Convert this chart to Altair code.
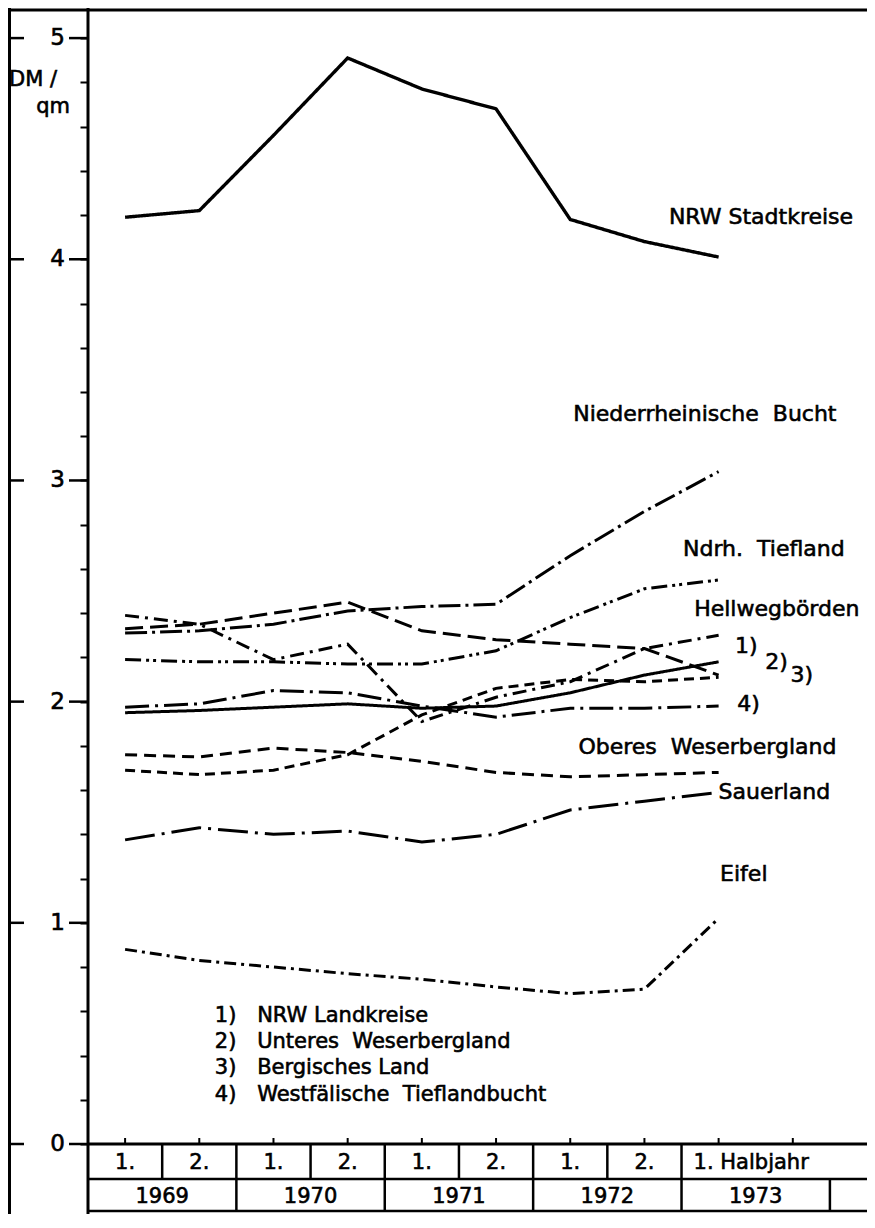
import altair as alt
import pandas as pd

FONT = "DejaVu Sans"
SP = "\u00a0"
TXT = dict(font=FONT, color="black", stroke="black", strokeWidth=0.6, baseline="middle")

# half-year positions (0 = 1969 1st half ... 8 = 1973 1st half)
halfyear_index = [0, 1, 2, 3, 4, 5, 6, 7, 8]
halfyear_labels = ["1.", "2.", "1.", "2.", "1.", "2.", "1.", "2.", "1. Halbjahr"]
years = ["1969", "1970", "1971", "1972", "1973"]
year_centers = [0.5, 2.5, 4.5, 6.5, 8.5]

# DM/qm values
nrw_stadtkreise = [4.19, 4.22, 4.56, 4.91, 4.77, 4.68, 4.18, 4.08, 4.01]
niederrheinische_bucht = [2.31, 2.32, 2.35, 2.41, 2.43, 2.44, 2.66, 2.86, 3.04]
ndrh_tiefland = [2.19, 2.18, 2.18, 2.17, 2.17, 2.23, 2.38, 2.51, 2.55]
hellwegboerden = [2.39, 2.35, 2.19, 2.26, 1.91, 2.02, 2.09, 2.24, 2.30]
nrw_landkreise = [1.95, 1.96, 1.975, 1.99, 1.97, 1.98, 2.04, 2.12, 2.18]
unteres_weserbergland = [2.33, 2.35, 2.40, 2.45, 2.32, 2.28, 2.26, 2.24, 2.12]
bergisches_land = [1.69, 1.67, 1.69, 1.76, 1.94, 2.06, 2.10, 2.09, 2.11]
westf_tieflandbucht = [1.975, 1.99, 2.05, 2.04, 1.98, 1.93, 1.97, 1.97, 1.98]
oberes_weserbergland = [1.76, 1.75, 1.79, 1.77, 1.73, 1.68, 1.66, 1.67, 1.68]
sauerland = [1.375, 1.43, 1.40, 1.415, 1.365, 1.40, 1.51, 1.55, 1.59]
eifel = [0.88, 0.83, 0.80, 0.77, 0.745, 0.71, 0.68, 0.70, 1.02]

series_names = ["NRW Stadtkreise", "Niederrheinische Bucht", "Ndrh. Tiefland", "Hellwegbörden",
                "NRW Landkreise", "Unteres Weserbergland", "Bergisches Land",
                "Westfälische Tieflandbucht", "Oberes Weserbergland", "Sauerland", "Eifel"]
series_values = [nrw_stadtkreise, niederrheinische_bucht, ndrh_tiefland, hellwegboerden,
                 nrw_landkreise, unteres_weserbergland, bergisches_land,
                 westf_tieflandbucht, oberes_weserbergland, sauerland, eifel]
series_dashes = [[1, 0], [22, 5, 3, 5], [16, 5, 3, 4, 3, 5], [14, 6, 3, 6],
                 [1, 0], [18, 7], [10, 6],
                 [24, 6, 3, 6], [12, 7], [30, 7, 3, 7], [12, 5, 3, 5]]

# labels on the right of the lines
label_texts = ["NRW Stadtkreise", "Niederrheinische" + SP + SP + "Bucht", "Ndrh." + SP + SP + "Tiefland",
               "Hellwegbörden", "1)", "2)", "3)", "4)", "Oberes" + SP + SP + "Weserbergland",
               "Sauerland", "Eifel"]
label_x = [7.33, 6.04, 7.52, 7.67, 8.22, 8.63, 8.97, 8.25, 6.11, 8.00, 8.02]
label_y = [4.19, 3.30, 2.69, 2.42, 2.25, 2.18, 2.12, 1.99, 1.795, 1.59, 1.22]

# footnotes
note_numbers = ["1)", "2)", "3)", "4)"]
note_texts = ["NRW Landkreise", "Unteres" + SP + SP + "Weserbergland", "Bergisches" + SP + "Land",
              "Westfälische" + SP + SP + "Tieflandbucht"]
note_y = [0.58, 0.46, 0.345, 0.22]

major_ticks = [0, 1, 2, 3, 4, 5]
major_labels = ["0", "1", "2", "3", "4", "5"]
minor_ticks = [round(k * 0.1, 1) for k in range(0, 52)]
x_ticks = [0, 1, 2, 3, 4, 5, 6, 7, 8, 9]
half_bounds = [0.5, 2.5, 4.5, 6.5]
year_bounds = [1.5, 3.5, 5.5, 7.5]
last_bound = [9.5]

W, H = 779, 1134
R1, R2 = 35, 68

rows = []
for name, vals in zip(series_names, series_values):
    for i, v in zip(halfyear_index, vals):
        rows.append({"s": name, "i": i, "v": v})
df = pd.DataFrame(rows)

xs = alt.Scale(domain=[-0.5, 10.0], nice=False, zero=False)
ys = alt.Scale(domain=[0, 5.127], nice=False, zero=False)

yaxis = alt.Axis(values=minor_ticks, tickSize=8, tickWidth=2, tickColor="black",
                 domain=False, grid=False, title=None, labels=False)

lines = alt.Chart(df).mark_line(color="black", strokeCap="butt", strokeJoin="miter").encode(
    x=alt.X("i:Q", scale=xs, axis=None),
    y=alt.Y("v:Q", scale=ys, axis=yaxis),
    detail="s:N",
    strokeDash=alt.StrokeDash("s:N", scale=alt.Scale(domain=series_names, range=series_dashes), legend=None),
    strokeWidth=alt.StrokeWidth("w:Q", scale=None),
).transform_calculate(w="datum.s == 'NRW Stadtkreise' ? 3.4 : 3.0")

major_df = pd.DataFrame({"m": major_ticks, "t": major_labels})
major_outer = alt.Chart(major_df).mark_rule(color="black", strokeWidth=2.5).encode(
    y=alt.Y("m:Q", scale=ys), x=alt.value(-80), x2=alt.value(-64))
major_inner = alt.Chart(major_df).mark_rule(color="black", strokeWidth=2.5).encode(
    y=alt.Y("m:Q", scale=ys), x=alt.value(-19), x2=alt.value(0))
major_text = alt.Chart(major_df).mark_text(fontSize=23, align="right", **TXT).encode(
    y=alt.Y("m:Q", scale=ys), x=alt.value(-23), text="t:N")

unit1 = alt.Chart(pd.DataFrame({"t": ["DM /"]})).mark_text(fontSize=21, align="left", **TXT).encode(
    text="t:N", x=alt.value(-79), y=alt.value(70))
unit2 = alt.Chart(pd.DataFrame({"t": ["qm"]})).mark_text(fontSize=21, align="right", **TXT).encode(
    text="t:N", x=alt.value(-18), y=alt.value(97))

one = pd.DataFrame({"k": [0]})
yline = alt.Chart(one).mark_rule(color="black", strokeWidth=3).encode(
    x=alt.value(0), y=alt.value(-2), y2=alt.value(H + R2 + 2))
leftframe = alt.Chart(one).mark_rule(color="black", strokeWidth=3).encode(
    x=alt.value(-78.5), y=alt.value(-2), y2=alt.value(H + R2 + 2))
topframe = alt.Chart(one).mark_rule(color="black", strokeWidth=3).encode(
    x=alt.value(-80), x2=alt.value(W), y=alt.value(0))
xline = alt.Chart(one).mark_rule(color="black", strokeWidth=3).encode(
    x=alt.value(0), x2=alt.value(W), y=alt.value(H))
row_line = alt.Chart(one).mark_rule(color="black", strokeWidth=2.5).encode(
    x=alt.value(0), x2=alt.value(W), y=alt.value(H + R1))
bottom_line = alt.Chart(one).mark_rule(color="black", strokeWidth=2.5).encode(
    x=alt.value(0), x2=alt.value(W), y=alt.value(H + R2 - 1))

upticks = alt.Chart(pd.DataFrame({"t": x_ticks})).mark_rule(color="black", strokeWidth=2).encode(
    x=alt.X("t:Q", scale=xs), y=alt.value(H - 6), y2=alt.value(H))
half_v = alt.Chart(pd.DataFrame({"b": half_bounds})).mark_rule(color="black", strokeWidth=2.5).encode(
    x=alt.X("b:Q", scale=xs), y=alt.value(H), y2=alt.value(H + R1))
year_v = alt.Chart(pd.DataFrame({"b": year_bounds})).mark_rule(color="black", strokeWidth=2.5).encode(
    x=alt.X("b:Q", scale=xs), y=alt.value(H), y2=alt.value(H + R2))
last_v = alt.Chart(pd.DataFrame({"b": last_bound})).mark_rule(color="black", strokeWidth=2.5).encode(
    x=alt.X("b:Q", scale=xs), y=alt.value(H + R1), y2=alt.value(H + R2))

hy_df = pd.DataFrame({"i": halfyear_index, "t": halfyear_labels})
hy_text = alt.Chart(hy_df).transform_filter("datum.i < 8").mark_text(
    fontSize=21, align="center", **TXT).encode(
    x=alt.X("i:Q", scale=xs), y=alt.value(H + R1 / 2 + 1), text="t:N")
hy_last = alt.Chart(hy_df).transform_filter("datum.i == 8").mark_text(
    fontSize=21, align="left", dx=-25, **TXT).encode(
    x=alt.X("i:Q", scale=xs), y=alt.value(H + R1 / 2 + 1), text="t:N")
yr_text = alt.Chart(pd.DataFrame({"c": year_centers, "t": years})).mark_text(
    fontSize=21, align="center", **TXT).encode(
    x=alt.X("c:Q", scale=xs), y=alt.value(H + (R1 + R2) / 2 + 1), text="t:N")

lab = alt.Chart(pd.DataFrame({"x": label_x, "y": label_y, "t": label_texts})).mark_text(
    fontSize=22, align="left", **TXT).encode(
    x=alt.X("x:Q", scale=xs), y=alt.Y("y:Q", scale=ys), text="t:N")

notes_df = pd.DataFrame({"n": note_numbers, "t": note_texts, "y": note_y})
notes_num = alt.Chart(notes_df).mark_text(fontSize=21, align="left", **TXT).encode(
    x=alt.X("nx:Q", scale=xs), y=alt.Y("y:Q", scale=ys), text="n:N").transform_calculate(nx="1.21")
notes_txt = alt.Chart(notes_df).mark_text(fontSize=21, align="left", **TXT).encode(
    x=alt.X("tx:Q", scale=xs), y=alt.Y("y:Q", scale=ys), text="t:N").transform_calculate(tx="1.78")

chart = alt.layer(
    lines, major_outer, major_inner, major_text, unit1, unit2,
    yline, leftframe, topframe, xline, row_line, bottom_line,
    upticks, half_v, year_v, last_v, hy_text, hy_last, yr_text,
    lab, notes_num, notes_txt,
).properties(
    width=W, height=H,
    padding={"left": 80, "top": 2, "right": 0, "bottom": R2 + 2},
    autosize=alt.AutoSizeParams(type="none"),
    background="white",
).configure_view(stroke=None)

chart.save("out.html", embed_options={"renderer": "svg", "actions": False})
